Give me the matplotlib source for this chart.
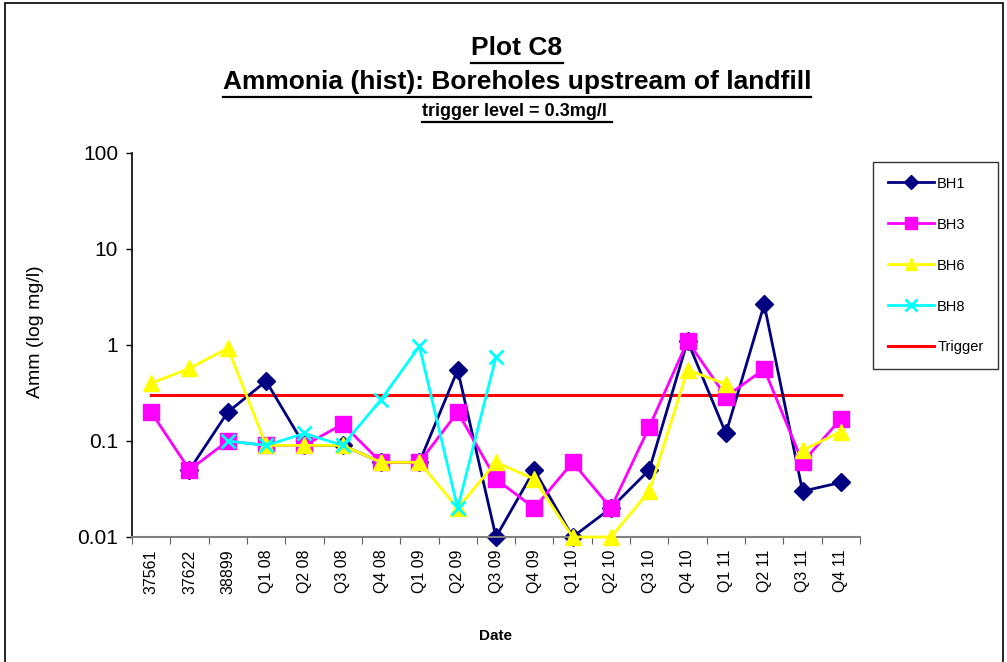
import matplotlib.pyplot as plt
import numpy as np
from matplotlib.lines import Line2D
from matplotlib.patches import Rectangle

plt.rcParams['font.family'] = ['Liberation Sans', 'DejaVu Sans']

# data
dates = ['37561', '37622', '38899', 'Q1 08', 'Q2 08', 'Q3 08', 'Q4 08',
         'Q1 09', 'Q2 09', 'Q3 09', 'Q4 09', 'Q1 10', 'Q2 10', 'Q3 10',
         'Q4 10', 'Q1 11', 'Q2 11', 'Q3 11', 'Q4 11']
nan = np.nan
bh1 = [nan, 0.05, 0.2, 0.42, 0.09, 0.09, 0.06, 0.06, 0.55, 0.01,
       0.05, 0.01, 0.02, 0.05, 1.1, 0.12, 2.65, 0.03, 0.037]
bh3 = [0.2, 0.05, 0.1, 0.09, 0.09, 0.15, 0.06, 0.06, 0.2, 0.04,
       0.02, 0.06, 0.02, 0.14, 1.1, 0.29, 0.56, 0.06, 0.17]
bh6 = [0.4, 0.57, 0.93, 0.09, 0.09, 0.09, 0.06, 0.06, 0.02, 0.06,
       0.04, 0.01, 0.01, 0.03, 0.55, 0.39, nan, 0.08, 0.125]
bh8 = [nan, nan, 0.1, 0.09, 0.12, 0.09, 0.27, 0.97, 0.02, 0.75,
       nan, nan, nan, nan, nan, nan, nan, nan, nan]
trigger = 0.3

W, H = 1007, 662
fig = plt.figure(figsize=(W / 100, H / 100), dpi=100)

# outer chart border (bottom edge falls outside the picture)
fig.patches.append(Rectangle((5 / W, -0.02), 998 / W, 1.02 - 3 / H, transform=fig.transFigure,
                             fill=False, edgecolor='black', linewidth=1.2))

ax = fig.add_axes([132 / W, 1 - 537 / H, 728 / W, 384 / H])
x = np.arange(len(dates))

ax.plot(x, [trigger] * len(x), color='#FF0000', lw=2.2, label='Trigger', zorder=1)
ax.plot(x, bh1, color='#000080', lw=2, marker='D', ms=9, label='BH1', zorder=2, clip_on=False)
ax.plot(x, bh3, color='#FF00FF', lw=2, marker='s', ms=11, label='BH3', zorder=3, clip_on=False)
ax.plot(x, bh6, color='#FFFF00', lw=2, marker='^', ms=11, label='BH6', zorder=4, clip_on=False)
ax.plot(x, bh8, color='#00FFFF', lw=2, marker='x', ms=10, mew=2, label='BH8', zorder=5,
        clip_on=False)

ax.set_yscale('log')
ax.set_ylim(0.01, 100)
ax.set_xlim(-0.5, len(dates) - 0.5)
ax.set_yticks([0.01, 0.1, 1, 10, 100])
ax.set_yticklabels(['0.01', '0.1', '1', '10', '100'])
ax.yaxis.set_minor_locator(plt.NullLocator())
ax.tick_params(axis='y', direction='out', length=4, width=1, labelsize=15, pad=6)

# category ticks at the boundaries, labels in the middle
ax.set_xticks(np.arange(-0.5, len(dates), 1.0))
ax.set_xticklabels([])
ax.set_xticks(x, minor=True)
ax.set_xticklabels(dates, minor=True, rotation=90, fontsize=11.5)
ax.tick_params(axis='x', which='major', direction='out', length=5, color='#606060')
ax.tick_params(axis='x', which='minor', length=0, pad=9)

ax.spines['top'].set_visible(False)
ax.spines['right'].set_visible(False)
ax.spines['bottom'].set_color('#808080')
ax.spines['bottom'].set_linewidth(1.5)
ax.spines['left'].set_linewidth(1.2)

fig.text(35 / W, 1 - 332 / H, 'Amm (log mg/l)', rotation=90, ha='center', va='center',
         fontsize=14)
fig.text(495 / W, 1 - 636 / H, 'Date', ha='center', va='center', fontsize=11,
         fontweight='bold')

handles, labels = ax.get_legend_handles_labels()
order = [1, 2, 3, 4, 0]
leg = fig.legend([handles[i] for i in order], [labels[i] for i in order],
                 loc='upper left', bbox_to_anchor=(873 / W, 1 - 162 / H),
                 fontsize=10.5, frameon=True, fancybox=False, handlelength=3.2,
                 handletextpad=0.2, labelspacing=1.85, borderpad=1.0,
                 borderaxespad=0, markerscale=0.8)
leg.get_frame().set_edgecolor('black')
leg.get_frame().set_linewidth(1)

# titles, underlined like the original
titles = [('Plot C8', 48, 19, 63), ('Ammonia (hist): Boreholes upstream of landfill', 82, 19, 97),
          ('trigger level = 0.3mg/l ', 111, 13, 122)]
texts = []
for s, yc, fs, yu in titles:
    t = fig.text(517 / W, 1 - yc / H, s, ha='center', va='center', fontsize=fs,
                 fontweight='bold')
    texts.append((t, yu))

fig.canvas.draw()
r = fig.canvas.get_renderer()
for t, yu in texts:
    bb = t.get_window_extent(r)
    fig.add_artist(Line2D([bb.x0 / W, bb.x1 / W], [1 - yu / H, 1 - yu / H],
                          transform=fig.transFigure, color='black', lw=1.6))

fig.savefig('out.png', dpi=100)
